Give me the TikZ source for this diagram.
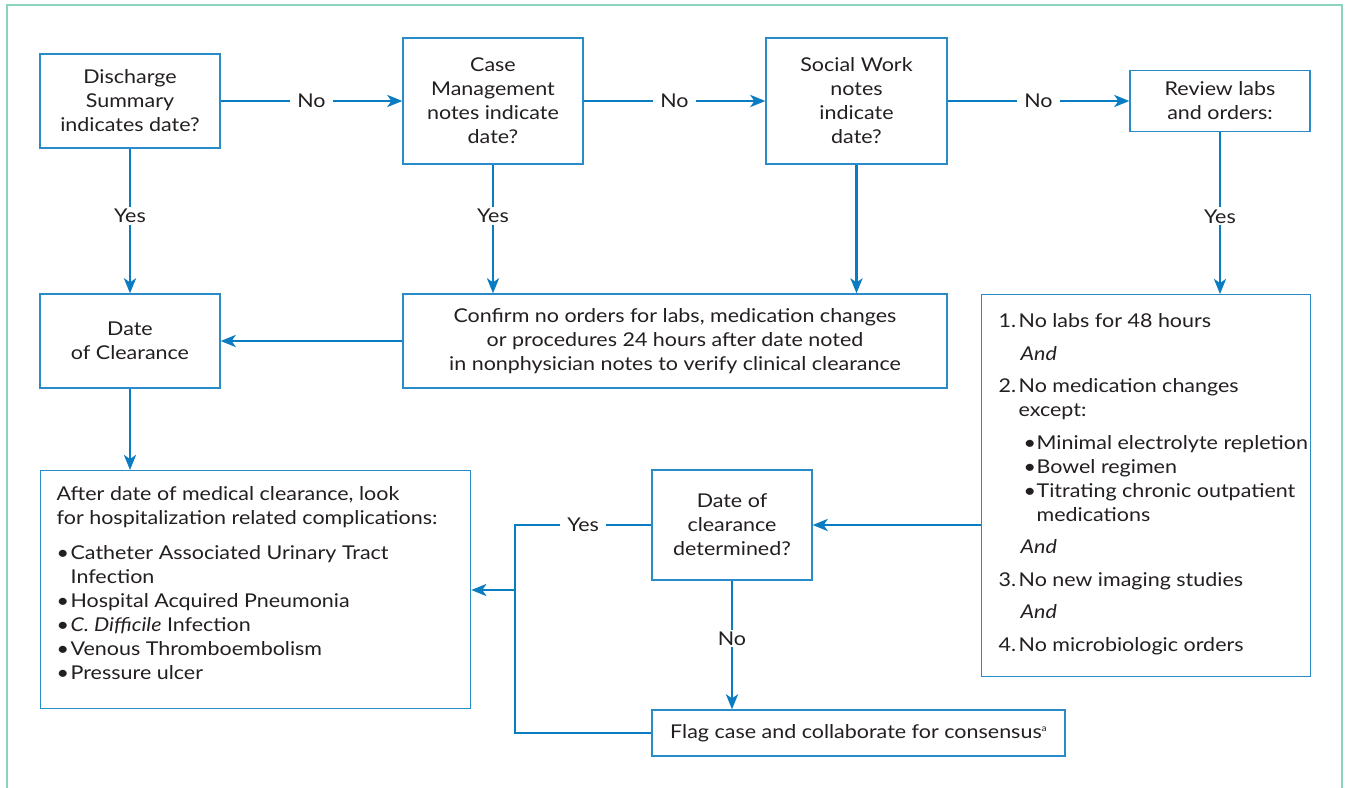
\documentclass[tikz,border=0pt]{standalone}
\usepackage{fontspec}
\setmainfont{Lato}[FakeStretch=1.13]
\usetikzlibrary{arrows.meta}
\definecolor{cblue}{HTML}{0A7DC2}
\definecolor{bblue}{HTML}{2A8BCB}
\definecolor{framec}{HTML}{8AD3BE}
\definecolor{txt}{HTML}{231F20}
\newcommand{\myfs}{\fontsize{19}{24}\selectfont}
\begin{document}
\begin{tikzpicture}[x=1pt,y=-1pt,
  box/.style={draw=bblue, line width=1.3pt, align=center, inner sep=0pt, text=txt, font=\myfs},
  conn/.style={draw=cblue, line width=2.6pt},
  arr/.style={conn, -{Stealth[length=15pt,width=12pt,inset=4pt]}},
  lbl/.style={fill=white, text=txt, font=\myfs, inner xsep=7pt, inner ysep=2pt}]
\fill[white] (0,0) rectangle (1349,787);
\useasboundingbox (0,0) rectangle (1349,787);
\draw[framec, line width=1.5pt] (7,830) -- (7,5) -- (1342,5) -- (1342,830);

\node[box, minimum width=180pt, minimum height=94pt] (ds) at (130,101) {Discharge\\Summary\\indicates date?};
\node[box, minimum width=180pt, minimum height=126pt] (cm) at (493,101) {Case\\Management\\notes indicate\\date?};
\node[box, minimum width=181pt, minimum height=126pt] (sw) at (856.5,101) {Social Work\\notes\\indicate\\date?};
\node[box, minimum width=180pt, minimum height=61pt] (rv) at (1220,101) {Review labs\\and orders:};
\node[box, minimum width=180pt, minimum height=94pt] (dc) at (130,341) {Date\\of Clearance};
\node[box, minimum width=544pt, minimum height=94pt] (cf) at (675,341) {Confirm no orders for labs, medication changes\\or procedures 24 hours after date noted\\in nonphysician notes to verify clinical clearance};
\node[box, anchor=north west, inner xsep=0pt, inner ysep=19pt, align=left] (ls) at (981,294) {%
\begin{minipage}[c][344pt][t]{329pt}\myfs\raggedright\leftskip=17pt
\makebox[20pt][l]{1.}No labs for 48 hours\\[8.5pt]
\hspace*{22pt}\textit{And}\\[8.5pt]
\makebox[20pt][l]{2.}No medication changes\\
\hspace*{20pt}except:\\[8.5pt]
\hspace*{25pt}\makebox[13pt][l]{•}Minimal electrolyte repletion\\
\hspace*{25pt}\makebox[13pt][l]{•}Bowel regimen\\
\hspace*{25pt}\makebox[13pt][l]{•}Titrating chronic outpatient\\
\hspace*{38pt}medications\\[8.5pt]
\hspace*{22pt}\textit{And}\\[8.5pt]
\makebox[20pt][l]{3.}No new imaging studies\\[8.5pt]
\hspace*{22pt}\textit{And}\\[8.5pt]
\makebox[20pt][l]{4.}No microbiologic orders
\end{minipage}};
\node[box, anchor=north west, inner xsep=0pt, inner ysep=16pt, align=left] (ad) at (40,470) {%
\begin{minipage}[c][206pt][t]{430pt}\myfs\raggedright\leftskip=16pt
After date of medical clearance, look\\
for hospitalization related complications:\\[11pt]
\makebox[14pt][l]{•}Catheter Associated Urinary Tract\\
\hspace*{14pt}Infection\\
\makebox[14pt][l]{•}Hospital Acquired Pneumonia\\
\makebox[14pt][l]{•}\textit{C. Difficile} Infection\\
\makebox[14pt][l]{•}Venous Thromboembolism\\
\makebox[14pt][l]{•}Pressure ulcer
\end{minipage}};
\node[box, minimum width=160pt, minimum height=110pt] (dd) at (732,525) {Date of\\clearance\\determined?};
\node[box, minimum width=413pt, minimum height=46pt] (fl) at (858.5,733) {Flag case and collaborate for consensus\raisebox{7pt}{\fontsize{9}{9}\selectfont a}};

\draw[arr] (ds.east) -- node[lbl]{No} (cm.west);
\draw[arr] (cm.east) -- node[lbl]{No} (sw.west);
\draw[arr] (sw.east) -- node[lbl]{No} (rv.west);
\draw[arr] (ds.south) -- node[lbl,pos=0.466]{Yes} (dc.north);
\draw[arr] (cm.south) -- node[lbl,pos=0.4]{Yes} (cm.south |- cf.north);
\draw[arr] (sw.south) -- (sw.south |- cf.north);
\draw[arr] (rv.south) -- node[lbl,pos=0.52]{Yes} (rv.south |- ls.north);
\draw[arr] (cf.west) -- (dc.east);
\draw[arr] (dc.south) -- (dc.south |- ad.north);
\draw[arr] (dd.east -| ls.west) -- (dd.east);
\draw[arr] (dd.south) -- node[lbl,pos=0.45]{No} (dd.south |- fl.north);
\coordinate (j1) at (515,525);
\coordinate (j2) at (515,590);
\draw[conn] (dd.west) -- node[lbl]{Yes} (j1) |- (fl.west);
\draw[arr] (j2) -- (j2 -| ad.east);
\end{tikzpicture}
\end{document}
